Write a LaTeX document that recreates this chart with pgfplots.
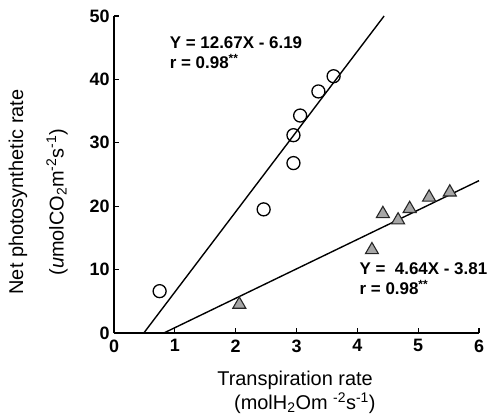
\documentclass[border=0pt]{standalone}
\usepackage{pgfplots}
\pgfplotsset{compat=1.18}
\usepackage{fontspec}
\setmainfont{Liberation Sans}

\begin{document}
\begin{tikzpicture}
\useasboundingbox (-114bp,-85bp) rectangle (375bp,333bp);
\begin{axis}[
  at={(0,0)}, anchor=origin,
  scale only axis, width=365bp, height=317bp,
  xmin=0, xmax=6, ymin=0, ymax=50,
  axis x line=bottom, axis y line=left,
  axis line style={-, line width=1.6pt},
  xtick={0,1,...,6}, ytick={0,10,...,50},
  tick align=inside, major tick length=5bp,
  tick style={line width=1.2pt, black},
  /pgf/number format/assume math mode=true,
  tick label style={font=\bfseries\fontsize{18}{18}\selectfont},
  xticklabel style={yshift=-3bp},
  yticklabel style={xshift=-1bp},
  clip=false,
]
% regression lines (end points)
\addplot[black, line width=1.4pt] coordinates {(0.49,0) (4.44,50)};
\addplot[black, line width=1.4pt] coordinates {(0.82,0) (6,24.03)};
% circles
\addplot[only marks, mark=o, mark size=6.5bp, mark options={line width=1.3pt, black}]
  coordinates {(0.75,6.6) (2.46,19.5) (2.95,26.8) (2.95,31.2) (3.06,34.3) (3.36,38.1) (3.61,40.5)};
% triangles
\addplot[only marks, mark=triangle*, mark size=7.5bp, mark options={line width=1.1pt, draw=black!85, fill=black!35}]
  coordinates {(2.06,4.5) (4.24,13.1) (4.42,18.8) (4.67,17.8) (4.86,19.6) (5.18,21.4) (5.52,22.2)};

\node[anchor=west, align=left, font=\bfseries\fontsize{17}{20}\selectfont]
  at (axis cs:0.86,44.2) {Y = 12.67X - 6.19\\ r = 0.98\textsuperscript{**}};
\node[anchor=west, align=left, font=\bfseries\fontsize{17}{20}\selectfont]
  at (axis cs:3.98,8.6) {Y =\ \ 4.64X - 3.81\\ r = 0.98\textsuperscript{**}};

\node[rotate=90, font=\fontsize{20}{20}\selectfont]
  at (axis description cs:-0.263,0.445) {Net photosynthetic rate};
\node[rotate=90, font=\fontsize{20}{20}\selectfont]
  at (axis description cs:-0.156,0.413) {(\textit{u}molCO\textsubscript{2}m\textsuperscript{-2}s\textsuperscript{-1})};
\node[font=\fontsize{20}{20}\selectfont]
  at (axis description cs:0.496,-0.148) {Transpiration rate};
\node[font=\fontsize{20}{20}\selectfont]
  at (axis description cs:0.523,-0.221) {(molH\textsubscript{2}Om \textsuperscript{-2}s\textsuperscript{-1})};
\end{axis}
\end{tikzpicture}
\end{document}
